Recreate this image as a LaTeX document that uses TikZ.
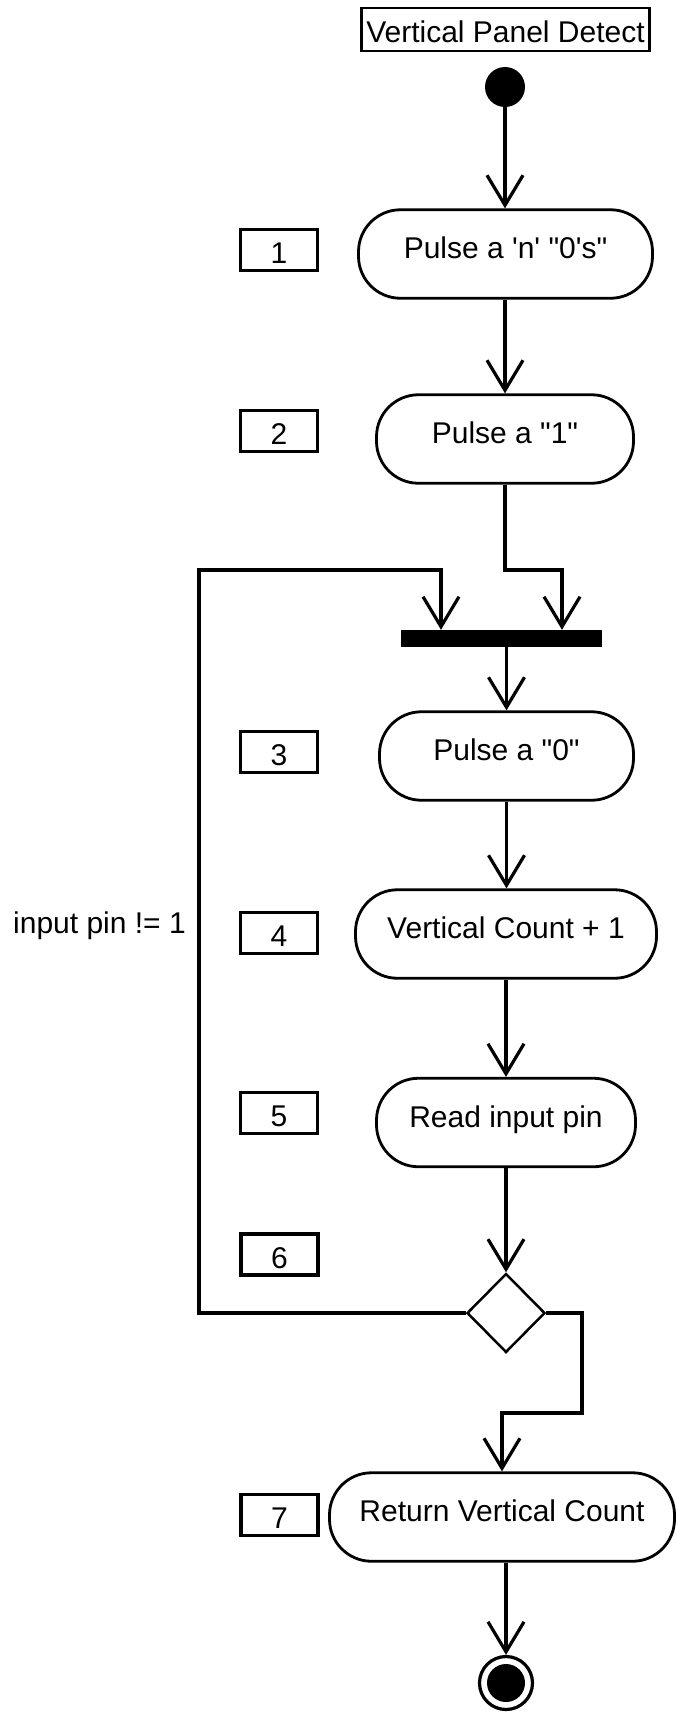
\documentclass[tikz,border=0pt]{standalone}
\usepackage{fontspec}
\setmainfont{Liberation Sans}
\usetikzlibrary{arrows.meta,shapes.geometric}

\begin{document}
\begin{tikzpicture}[x=1bp,y=-1bp,
  every node/.style={font=\fontsize{30.1pt}{36pt}\selectfont},
  flow/.style={line width=3.2bp},
  arr/.style={flow,-{Straight Barb[length=30bp,width=36bp]}},
  act/.style={draw,line width=2.8bp,rounded corners=42bp,minimum height=88.5bp,
    inner sep=0pt,text height=20bp,text depth=10.5bp},
  numbox/.style={draw,line width=3.2bp,minimum width=77bp,minimum height=41bp,
    inner sep=0pt,text height=27.4bp,text depth=0pt}]
\useasboundingbox (0,0) rectangle (676,1713);

% title and start
\node[draw,line width=2.8bp,minimum width=288bp,minimum height=43bp,inner sep=0pt,
  text height=26.2bp,text depth=0pt] (title) at (505.5,29.5) {Vertical Panel Detect};
\node[circle,fill,minimum size=40bp,inner sep=0pt] (start) at (505,87) {};

% activities
\node[act,minimum width=294bp] (n1) at (505.5,254)
  {Pulse a \textquotesingle n\textquotesingle{} \textquotedbl 0\textquotesingle s\textquotedbl};
\node[act,minimum width=257bp] (n2) at (505,439) {Pulse a \textquotedbl 1\textquotedbl};
\node[fill,minimum width=201bp,minimum height=17bp,inner sep=0pt] (bar) at (501.5,638.5) {};
\node[act,minimum width=254bp] (n3) at (506.5,756) {Pulse a \textquotedbl 0\textquotedbl};
\node[act,minimum width=301bp] (n4) at (506,934) {Vertical Count + 1};
\node[act,minimum width=259bp] (n5) at (506,1122.5) {Read input pin};
\node[diamond,draw,line width=2.5bp,aspect=1,minimum width=78bp,minimum height=79bp,
  inner sep=0pt] (dia) at (506,1313) {};
\node[act,minimum width=345bp] (n7) at (502,1517) {Return Vertical Count};
\node[circle,draw,line width=3.2bp,minimum size=53bp,inner sep=0pt] (fin) at (506,1683) {};
\fill (fin.center) circle[radius=19bp];

% step numbers
\node[numbox] (s1) at (279,250) {1};
\node[numbox] (s2) at (279,431) {2};
\node[numbox] (s3) at (279,752) {3};
\node[numbox] (s4) at (279,933) {4};
\node[numbox] (s5) at (279,1113) {5};
\node[numbox] (s6) at (279.5,1254.5) {6};
\node[numbox] (s7) at (279.5,1515) {7};

% guard
\node[anchor=base west,inner sep=0pt] (guard) at (13,933) {input pin != 1};

% routing points
\coordinate (jr) at (562,570);
\coordinate (jl) at (441,570);
\coordinate (lt) at (199,570);
\coordinate (er) at (582,1413);

% connectors
\draw[arr] (start.south) -- (start.south |- n1.north);
\draw[arr] (n1.south -| n2.north) -- (n2.north);
\draw[arr] (n2.south) |- (jr) -- (jr |- bar.north);
\draw[arr] (dia.west) -| (lt) -- (jl) -- (jl |- bar.north);
\draw[arr] (bar.south -| n3.north) -- (n3.north);
\draw[arr] (n3.south) -- (n3.south |- n4.north);
\draw[arr] (n4.south) -- (n4.south |- n5.north);
\draw[arr] (n5.south) -- (n5.south |- dia.north);
\draw[arr] (dia.east) -| (er) -- (er -| n7.north) -- (n7.north);
\draw[arr] (n7.south -| fin.north) -- (fin.north);
\end{tikzpicture}
\end{document}
